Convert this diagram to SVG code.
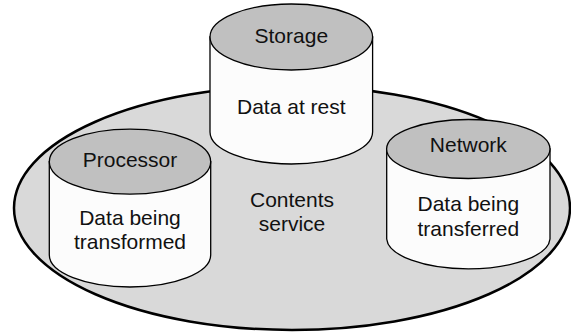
<svg xmlns="http://www.w3.org/2000/svg" width="571" height="332" viewBox="0 0 571 332">
<style>
.body{fill:#fcfcfc;stroke:#000;stroke-width:1.3}
.top{fill:#c0c0c0;stroke:#000;stroke-width:1.3}
.t{font-family:"Liberation Sans",Arial,sans-serif;font-size:21px;fill:#111;text-anchor:middle}
</style>
<rect width="571" height="332" fill="#fff"/>
<g id="contents-service">
<ellipse cx="292" cy="208" rx="278" ry="122" fill="#d9d9d9" stroke="#000" stroke-width="2.5"/>
<text class="t" x="292" y="207">Contents</text>
<text class="t" x="292" y="231">service</text>
</g>
<g id="storage">
<path class="body" d="M210,37 L210,132 A81.3,32 0 0 0 372.6,132 L372.6,37 Z"/>
<ellipse class="top" cx="291.3" cy="37" rx="81.3" ry="33"/>
<text class="t" x="291.3" y="43">Storage</text>
<text class="t" x="291.3" y="114">Data at rest</text>
</g>
<g id="processor">
<path class="body" d="M49.3,161.7 L49.3,255 A80.7,32 0 0 0 210.7,255 L210.7,161.7 Z"/>
<ellipse class="top" cx="130" cy="161.7" rx="80.7" ry="32.5"/>
<text class="t" x="130" y="167">Processor</text>
<text class="t" x="130" y="225">Data being</text>
<text class="t" x="130" y="249">transformed</text>
</g>
<g id="network">
<path class="body" d="M386.7,149 L386.7,239 A81.7,31 0 0 0 550,239 L550,149 Z"/>
<ellipse class="top" cx="468.3" cy="149" rx="81.7" ry="29.5"/>
<text class="t" x="468.3" y="152">Network</text>
<text class="t" x="468.3" y="211">Data being</text>
<text class="t" x="468.3" y="236">transferred</text>
</g>
<g id="connectors"/>
</svg>
